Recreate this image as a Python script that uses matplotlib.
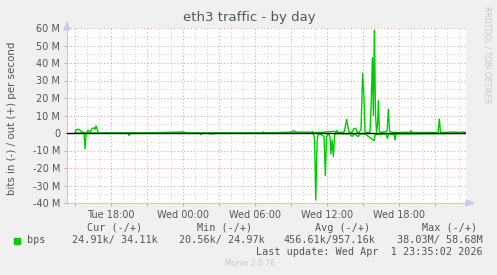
import matplotlib
matplotlib.use("Agg")
import matplotlib.pyplot as plt
from matplotlib.ticker import MultipleLocator, FuncFormatter

# time in hours since Tue 00:00, values in Mbit/s
out_hours = [15.0, 15.08, 15.25, 15.42, 15.58, 15.75, 15.92, 16.08, 16.25, 16.42, 16.58, 16.67,
             16.75, 16.83, 16.92, 20.42, 24.08, 24.25, 30.5, 30.67, 30.83, 32.92, 33.25, 33.42,
             34.75, 34.83, 34.92, 35.25, 35.42, 36.25, 36.58, 36.75, 36.83, 36.92, 37.42, 37.5,
             37.64, 37.75, 37.83, 38.08, 38.25, 38.39, 38.5, 38.67, 38.83, 38.97, 39.08, 39.17,
             39.33, 39.58, 39.67, 39.78, 39.86, 39.94, 40.04, 40.13, 40.21, 40.28, 40.36, 40.5,
             41.0, 41.11, 41.21, 41.42, 42.92, 43.0, 43.08, 45.25, 45.36, 45.46, 46.67, 46.92,
             47.25, 47.58]
out_vals = [0, 1.7, 2.2, 1.5, 0.8, 0, 0, 1.5, 0.5, 2.5, 3.0, 2.0,
            4.0, 2.5, 0, 0, 0.6, 0, 0, 0.6, 0, 0.5, 1.2, 0.5,
            0.5, 0.8, 0, 0.4, 0.3, 0.8, 1.0, 0.3, 1.5, 0.3, 0.5, 3.0,
            7.8, 3.0, 0.5, 0.3, 2.5, 2.7, 0.5, 0.3, 2.0, 34.0, 20.0, 0.5,
            0.3, 0.5, 15.0, 43.0, 10.0, 58.7, 10.0, 0.5, 5.0, 18.5, 1.0, 0.3,
            1.0, 13.5, 1.0, 0.3, 0.4, 1.3, 0.3, 0.3, 8.0, 0.3, 0.6, 0.3,
            0.6, 0.3]

in_hours = [15.0, 15.75, 15.83, 15.92, 16.0, 19.42, 19.5, 19.58, 25.42, 25.5, 25.58, 26.5,
            26.58, 34.83, 34.96, 35.06, 35.17, 35.25, 35.42, 35.75, 35.86, 35.96, 36.08, 36.25,
            36.33, 36.42, 36.53, 36.63, 36.75, 37.92, 38.08, 38.25, 38.61, 38.75, 39.17, 39.92,
            40.0, 40.92, 41.03, 41.13, 41.58, 41.67, 41.75, 47.58]
in_vals = [0, 0, 9.0, 1.0, 0, 0, 1.5, 0, 0, 1.0, 0, 0.5,
           0, 0, 3.0, 38.3, 5.0, 1.0, 0.5, 2.0, 24.4, 2.0, 0.5, 2.0,
           12.0, 4.0, 13.5, 1.0, 0.3, 0.5, 2.0, 0.5, 2.0, 0.5, 0.5, 4.4,
           1.0, 0.5, 3.0, 0.5, 1.0, 4.0, 0.5, 0.2]

tick_hours = [18, 24, 30, 36, 42]
tick_labels = ["Tue 18:00", "Wed 00:00", "Wed 06:00", "Wed 12:00", "Wed 18:00"]

legend_head = ["Cur (-/+)", "Min (-/+)", "Avg (-/+)", "Max (-/+)"]
legend_vals = ["24.91k/ 34.11k", "20.56k/ 24.97k", "456.61k/957.16k", "38.03M/ 58.68M"]

bg = "#F0F0F0"
green = "#00CC00"
txt = "#555555"

fig = plt.figure(figsize=(4.97, 2.75), dpi=100, facecolor=bg)
ax = fig.add_axes([67 / 497, 1 - 203 / 275, 399 / 497, 175 / 275])
ax.set_facecolor("white")

ax.plot(out_hours, out_vals, color=green, lw=1.0, zorder=3)
ax.plot(in_hours, [-v for v in in_vals], color=green, lw=1.0, zorder=3)
ax.axhline(0, color="black", lw=1.0, zorder=4)

ax.set_xlim(14.33, 47.58)
ax.set_ylim(-40, 60)

ax.yaxis.set_major_locator(MultipleLocator(10))
ax.yaxis.set_minor_locator(MultipleLocator(5))
ax.xaxis.set_major_locator(MultipleLocator(3))
ax.xaxis.set_minor_locator(MultipleLocator(1))
ax.grid(which="minor", color="#D4D4D4", ls=(0, (1, 2)), lw=0.8)
ax.grid(which="major", color="#F0A0A0", ls=(0, (1, 2)), lw=0.8)
ax.set_axisbelow(True)

ax.yaxis.set_major_formatter(FuncFormatter(lambda v, p: "0" if v == 0 else "%d M" % v))
ax.set_xticks(tick_hours + [15, 21, 27, 33, 39, 45])
ax.set_xticklabels(tick_labels + [""] * 6)
ax.tick_params(axis="both", which="both", length=2, color="#E0A0A0", labelsize=7, labelcolor=txt, pad=3)
ax.tick_params(axis="y", which="minor", length=0)
ax.tick_params(axis="x", which="minor", length=0)

for s in ["top", "right"]:
    ax.spines[s].set_visible(False)
ax.spines["left"].set_color("#C8C8F0")
ax.spines["bottom"].set_color("#C8C8F0")
# axis arrows
fig.patches.append(plt.Polygon([[64 / 497, 1 - 30 / 275], [70 / 497, 1 - 30 / 275], [67 / 497, 1 - 22 / 275]],
                               closed=True, color="#C8C8F0", transform=fig.transFigure))
fig.patches.append(plt.Polygon([[466 / 497, 1 - 200 / 275], [466 / 497, 1 - 206 / 275], [474 / 497, 1 - 203 / 275]],
                               closed=True, color="#C8C8F0", transform=fig.transFigure))

fig.text(249 / 497, 1 - 18 / 275, "eth3 traffic - by day", ha="center", va="center", fontsize=9.5, color=txt)
fig.text(12 / 497, 1 - 118 / 275, "bits in (-) / out (+) per second", rotation=90,
         ha="center", va="center", fontsize=7.4, color=txt)
fig.text(487 / 497, 1 - 55 / 275, "RRDTOOL / TOBI OETIKER", rotation=270,
         ha="center", va="center", fontsize=5.5, color="#C8C8C8")

mono = "DejaVu Sans Mono"
head_x = [115, 225, 343, 450]
for x, h in zip(head_x, legend_head):
    fig.text(x / 497, 1 - 228 / 275, h, ha="center", va="center", fontsize=7.3, family=mono, color=txt)
fig.patches.append(plt.Rectangle((14 / 497, 1 - 243.5 / 275), 6 / 497, 6 / 275,
                                 color=green, transform=fig.transFigure))
fig.text(27 / 497, 1 - 240 / 275, "bps", ha="left", va="center", fontsize=7.3, family=mono, color=txt)
val_right = [158, 265, 375, 483]
for x, v in zip(val_right, legend_vals):
    fig.text(x / 497, 1 - 240 / 275, v, ha="right", va="center", fontsize=7.3, family=mono, color=txt)
fig.text(483 / 497, 1 - 252 / 275, "Last update: Wed Apr  1 23:35:02 2026", ha="right", va="center",
         fontsize=7.3, family=mono, color=txt)
fig.text(250 / 497, 1 - 264 / 275, "Munin 2.0.76", ha="center", va="center", fontsize=5.5, color="#C8C8C8")

fig.savefig("out.png", dpi=100, facecolor=bg)
